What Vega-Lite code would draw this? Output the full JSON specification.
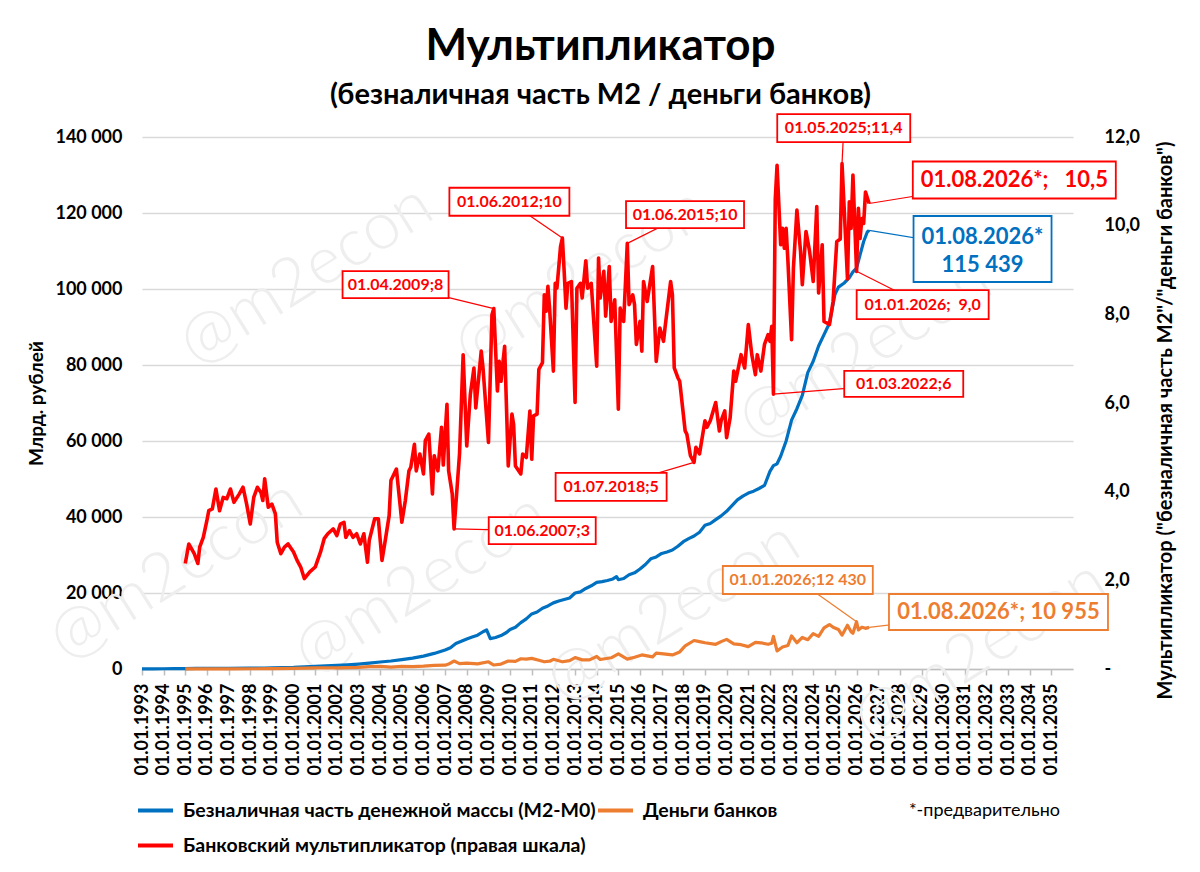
{
  "$schema": "https://vega.github.io/schema/vega-lite/v6.json",
  "width": 931,
  "height": 532,
  "autosize": {"type": "none"},
  "padding": {"left": 142, "top": 137, "right": 127, "bottom": 203},
  "background": "white",
  "title": {
    "text": "Мультипликатор",
    "subtitle": "(безналичная часть М2 / деньги банков)",
    "anchor": "middle",
    "frame": "group",
    "dx": -7,
    "offset": 1,
    "font": "Lato",
    "fontSize": 44,
    "fontWeight": "bold",
    "color": "black",
    "subtitleFont": "Lato",
    "subtitleFontSize": 29,
    "subtitleFontWeight": "bold",
    "subtitleColor": "black",
    "subtitlePadding": 12
  },
  "datasets": {
    "wm": [
      {"d": "2000-07-30", "v": 103684, "t": "@m2econ"},
      {"d": "2013-04-10", "v": 102895, "t": "@m2econ"},
      {"d": "2026-05-22", "v": 83948, "t": "@m2econ"},
      {"d": "1994-07-27", "v": 26053, "t": "@m2econ"},
      {"d": "2005-11-20", "v": 22369, "t": "@m2econ"},
      {"d": "2017-07-12", "v": 15000, "t": "@m2econ"},
      {"d": "2031-09-15", "v": 4737, "t": "@m2econ"}
    ],
    "ann": [
      {"id": "r1", "s": "R", "d": "2009-04-01", "v": 8.13, "ld": "2004-09-17", "lv": 8.67, "t": "01.04.2009;8"},
      {"id": "r2", "s": "R", "d": "2012-06-01", "v": 9.72, "ld": "2009-12-20", "lv": 10.54, "t": "01.06.2012;10"},
      {"id": "r3", "s": "R", "d": "2015-06-01", "v": 9.60, "ld": "2018-01-30", "lv": 10.25, "t": "01.06.2015;10"},
      {"id": "r4", "s": "R", "d": "2025-05-01", "v": 11.40, "ld": "2025-05-30", "lv": 12.20, "t": "01.05.2025;11,4"},
      {"id": "r5", "s": "R", "d": "2026-08-01", "v": 10.50, "ld": "2033-04-15", "lv": 11.03, "t": "01.08.2026*;\u00a0\u00a0 10,5"},
      {"id": "r7", "s": "R", "d": "2026-01-01", "v": 8.97, "ld": "2029-01-20", "lv": 8.22, "t": "01.01.2026;\u00a0 9,0"},
      {"id": "r8", "s": "R", "d": "2022-03-01", "v": 6.20, "ld": "2028-03-07", "lv": 6.43, "t": "01.03.2022;6"},
      {"id": "r9", "s": "R", "d": "2018-07-01", "v": 4.66, "ld": "2014-09-01", "lv": 4.11, "t": "01.07.2018;5"},
      {"id": "r10", "s": "R", "d": "2007-06-01", "v": 3.16, "ld": "2011-06-27", "lv": 3.12, "t": "01.06.2007;3"},
      {"id": "b6", "s": "B", "d": "2026-08-01", "v": 115439, "ld": "2031-10-27", "lv": 110527, "t": "01.08.2026*\n115 439"},
      {"id": "o11", "s": "O", "d": "2026-01-01", "v": 12430, "ld": "2023-04-16", "lv": 23421, "t": "01.01.2026;12 430"},
      {"id": "o12", "s": "O", "d": "2026-08-01", "v": 10955, "ld": "2032-07-22", "lv": 15000, "t": "01.08.2026*; 10 955"}
    ],
    "series": [
      {"d": "1993-01-01", "v": 10, "s": "B"},
      {"d": "1993-07-01", "v": 30, "s": "B"},
      {"d": "1994-01-01", "v": 60, "s": "B"},
      {"d": "1994-07-01", "v": 90, "s": "B"},
      {"d": "1995-01-01", "v": 110, "s": "B"},
      {"d": "1995-07-01", "v": 140, "s": "B"},
      {"d": "1996-01-01", "v": 160, "s": "B"},
      {"d": "1997-01-01", "v": 200, "s": "B"},
      {"d": "1998-01-01", "v": 240, "s": "B"},
      {"d": "1998-09-01", "v": 260, "s": "B"},
      {"d": "1999-01-01", "v": 300, "s": "B"},
      {"d": "2000-01-01", "v": 420, "s": "B"},
      {"d": "2000-07-01", "v": 550, "s": "B"},
      {"d": "2001-01-01", "v": 680, "s": "B"},
      {"d": "2001-07-01", "v": 820, "s": "B"},
      {"d": "2002-01-01", "v": 950, "s": "B"},
      {"d": "2002-07-01", "v": 1100, "s": "B"},
      {"d": "2003-01-01", "v": 1300, "s": "B"},
      {"d": "2003-07-01", "v": 1550, "s": "B"},
      {"d": "2004-01-01", "v": 1850, "s": "B"},
      {"d": "2004-07-01", "v": 2100, "s": "B"},
      {"d": "2005-01-01", "v": 2450, "s": "B"},
      {"d": "2005-07-01", "v": 2850, "s": "B"},
      {"d": "2006-01-01", "v": 3400, "s": "B"},
      {"d": "2006-07-01", "v": 4100, "s": "B"},
      {"d": "2007-01-01", "v": 5000, "s": "B"},
      {"d": "2007-04-01", "v": 5600, "s": "B"},
      {"d": "2007-07-01", "v": 6700, "s": "B"},
      {"d": "2007-10-01", "v": 7300, "s": "B"},
      {"d": "2008-01-01", "v": 7900, "s": "B"},
      {"d": "2008-04-01", "v": 8400, "s": "B"},
      {"d": "2008-07-01", "v": 8900, "s": "B"},
      {"d": "2008-10-01", "v": 9800, "s": "B"},
      {"d": "2008-12-01", "v": 10300, "s": "B"},
      {"d": "2009-02-01", "v": 8000, "s": "B"},
      {"d": "2009-05-01", "v": 8300, "s": "B"},
      {"d": "2009-08-01", "v": 8800, "s": "B"},
      {"d": "2009-11-01", "v": 9600, "s": "B"},
      {"d": "2010-01-01", "v": 10400, "s": "B"},
      {"d": "2010-04-01", "v": 11000, "s": "B"},
      {"d": "2010-07-01", "v": 12200, "s": "B"},
      {"d": "2010-10-01", "v": 13200, "s": "B"},
      {"d": "2011-01-01", "v": 14500, "s": "B"},
      {"d": "2011-04-01", "v": 15000, "s": "B"},
      {"d": "2011-07-01", "v": 16000, "s": "B"},
      {"d": "2011-10-01", "v": 16600, "s": "B"},
      {"d": "2012-01-01", "v": 17400, "s": "B"},
      {"d": "2012-04-01", "v": 17900, "s": "B"},
      {"d": "2012-07-01", "v": 18300, "s": "B"},
      {"d": "2012-10-01", "v": 18700, "s": "B"},
      {"d": "2013-01-01", "v": 20000, "s": "B"},
      {"d": "2013-04-01", "v": 20300, "s": "B"},
      {"d": "2013-07-01", "v": 21200, "s": "B"},
      {"d": "2013-10-01", "v": 21900, "s": "B"},
      {"d": "2014-01-01", "v": 22800, "s": "B"},
      {"d": "2014-04-01", "v": 23000, "s": "B"},
      {"d": "2014-07-01", "v": 23300, "s": "B"},
      {"d": "2014-10-01", "v": 23700, "s": "B"},
      {"d": "2014-12-01", "v": 24300, "s": "B"},
      {"d": "2015-01-01", "v": 23500, "s": "B"},
      {"d": "2015-04-01", "v": 23800, "s": "B"},
      {"d": "2015-07-01", "v": 24800, "s": "B"},
      {"d": "2015-10-01", "v": 25300, "s": "B"},
      {"d": "2016-01-01", "v": 26300, "s": "B"},
      {"d": "2016-04-01", "v": 27500, "s": "B"},
      {"d": "2016-07-01", "v": 29000, "s": "B"},
      {"d": "2016-10-01", "v": 29500, "s": "B"},
      {"d": "2017-01-01", "v": 30400, "s": "B"},
      {"d": "2017-04-01", "v": 30800, "s": "B"},
      {"d": "2017-07-01", "v": 31300, "s": "B"},
      {"d": "2017-10-01", "v": 32300, "s": "B"},
      {"d": "2018-01-01", "v": 33500, "s": "B"},
      {"d": "2018-04-01", "v": 34300, "s": "B"},
      {"d": "2018-07-01", "v": 35000, "s": "B"},
      {"d": "2018-10-01", "v": 36000, "s": "B"},
      {"d": "2019-01-01", "v": 37800, "s": "B"},
      {"d": "2019-04-01", "v": 38300, "s": "B"},
      {"d": "2019-07-01", "v": 39300, "s": "B"},
      {"d": "2019-10-01", "v": 40300, "s": "B"},
      {"d": "2020-01-01", "v": 41500, "s": "B"},
      {"d": "2020-04-01", "v": 43000, "s": "B"},
      {"d": "2020-07-01", "v": 44500, "s": "B"},
      {"d": "2020-10-01", "v": 45500, "s": "B"},
      {"d": "2021-01-01", "v": 46300, "s": "B"},
      {"d": "2021-04-01", "v": 46800, "s": "B"},
      {"d": "2021-07-01", "v": 47500, "s": "B"},
      {"d": "2021-10-01", "v": 48300, "s": "B"},
      {"d": "2022-01-01", "v": 52000, "s": "B"},
      {"d": "2022-03-01", "v": 53500, "s": "B"},
      {"d": "2022-05-01", "v": 54000, "s": "B"},
      {"d": "2022-07-01", "v": 56000, "s": "B"},
      {"d": "2022-10-01", "v": 60000, "s": "B"},
      {"d": "2023-01-01", "v": 65500, "s": "B"},
      {"d": "2023-04-01", "v": 68500, "s": "B"},
      {"d": "2023-07-01", "v": 72000, "s": "B"},
      {"d": "2023-10-01", "v": 78000, "s": "B"},
      {"d": "2024-01-01", "v": 81000, "s": "B"},
      {"d": "2024-04-01", "v": 85000, "s": "B"},
      {"d": "2024-07-01", "v": 88000, "s": "B"},
      {"d": "2024-10-01", "v": 91000, "s": "B"},
      {"d": "2025-01-01", "v": 98500, "s": "B"},
      {"d": "2025-03-01", "v": 100500, "s": "B"},
      {"d": "2025-06-01", "v": 101500, "s": "B"},
      {"d": "2025-09-01", "v": 103000, "s": "B"},
      {"d": "2025-11-01", "v": 104500, "s": "B"},
      {"d": "2026-01-01", "v": 105500, "s": "B"},
      {"d": "2026-03-01", "v": 109000, "s": "B"},
      {"d": "2026-05-01", "v": 112500, "s": "B"},
      {"d": "2026-07-01", "v": 115000, "s": "B"},
      {"d": "2026-08-01", "v": 115439, "s": "B"},
      {"d": "1995-01-01", "v": 40, "s": "O"},
      {"d": "1996-01-01", "v": 50, "s": "O"},
      {"d": "1997-01-01", "v": 55, "s": "O"},
      {"d": "1998-01-01", "v": 60, "s": "O"},
      {"d": "1999-01-01", "v": 90, "s": "O"},
      {"d": "2000-01-01", "v": 160, "s": "O"},
      {"d": "2001-01-01", "v": 280, "s": "O"},
      {"d": "2002-01-01", "v": 320, "s": "O"},
      {"d": "2003-01-01", "v": 450, "s": "O"},
      {"d": "2003-07-01", "v": 600, "s": "O"},
      {"d": "2004-01-01", "v": 700, "s": "O"},
      {"d": "2004-07-01", "v": 500, "s": "O"},
      {"d": "2005-01-01", "v": 700, "s": "O"},
      {"d": "2005-07-01", "v": 650, "s": "O"},
      {"d": "2006-01-01", "v": 750, "s": "O"},
      {"d": "2006-07-01", "v": 950, "s": "O"},
      {"d": "2007-01-01", "v": 1000, "s": "O"},
      {"d": "2007-03-01", "v": 1300, "s": "O"},
      {"d": "2007-06-01", "v": 2100, "s": "O"},
      {"d": "2007-09-01", "v": 1400, "s": "O"},
      {"d": "2008-01-01", "v": 1550, "s": "O"},
      {"d": "2008-07-01", "v": 1350, "s": "O"},
      {"d": "2009-01-01", "v": 1900, "s": "O"},
      {"d": "2009-04-01", "v": 1050, "s": "O"},
      {"d": "2009-08-01", "v": 1300, "s": "O"},
      {"d": "2009-12-01", "v": 2100, "s": "O"},
      {"d": "2010-04-01", "v": 2000, "s": "O"},
      {"d": "2010-07-01", "v": 2700, "s": "O"},
      {"d": "2010-10-01", "v": 2600, "s": "O"},
      {"d": "2011-01-01", "v": 2800, "s": "O"},
      {"d": "2011-05-01", "v": 2300, "s": "O"},
      {"d": "2011-08-01", "v": 1900, "s": "O"},
      {"d": "2011-11-01", "v": 2050, "s": "O"},
      {"d": "2012-01-01", "v": 2550, "s": "O"},
      {"d": "2012-06-01", "v": 1900, "s": "O"},
      {"d": "2012-10-01", "v": 2200, "s": "O"},
      {"d": "2013-01-01", "v": 3000, "s": "O"},
      {"d": "2013-05-01", "v": 2400, "s": "O"},
      {"d": "2013-09-01", "v": 2400, "s": "O"},
      {"d": "2014-01-01", "v": 3300, "s": "O"},
      {"d": "2014-03-01", "v": 2500, "s": "O"},
      {"d": "2014-09-01", "v": 2950, "s": "O"},
      {"d": "2015-01-01", "v": 4000, "s": "O"},
      {"d": "2015-06-01", "v": 2600, "s": "O"},
      {"d": "2015-10-01", "v": 3100, "s": "O"},
      {"d": "2016-02-01", "v": 3700, "s": "O"},
      {"d": "2016-08-01", "v": 3200, "s": "O"},
      {"d": "2016-10-01", "v": 4200, "s": "O"},
      {"d": "2017-02-01", "v": 4000, "s": "O"},
      {"d": "2017-07-01", "v": 3700, "s": "O"},
      {"d": "2017-11-01", "v": 4500, "s": "O"},
      {"d": "2018-02-01", "v": 6100, "s": "O"},
      {"d": "2018-07-01", "v": 7500, "s": "O"},
      {"d": "2018-10-01", "v": 7200, "s": "O"},
      {"d": "2019-01-01", "v": 6900, "s": "O"},
      {"d": "2019-07-01", "v": 6500, "s": "O"},
      {"d": "2019-10-01", "v": 7200, "s": "O"},
      {"d": "2020-01-01", "v": 7800, "s": "O"},
      {"d": "2020-05-01", "v": 6600, "s": "O"},
      {"d": "2020-09-01", "v": 6400, "s": "O"},
      {"d": "2021-01-01", "v": 5900, "s": "O"},
      {"d": "2021-05-01", "v": 7000, "s": "O"},
      {"d": "2021-08-01", "v": 6900, "s": "O"},
      {"d": "2021-12-01", "v": 6500, "s": "O"},
      {"d": "2022-02-01", "v": 6800, "s": "O"},
      {"d": "2022-03-01", "v": 8600, "s": "O"},
      {"d": "2022-05-01", "v": 4750, "s": "O"},
      {"d": "2022-08-01", "v": 5800, "s": "O"},
      {"d": "2022-11-01", "v": 6200, "s": "O"},
      {"d": "2023-01-01", "v": 8700, "s": "O"},
      {"d": "2023-04-01", "v": 6900, "s": "O"},
      {"d": "2023-07-01", "v": 8300, "s": "O"},
      {"d": "2023-10-01", "v": 7700, "s": "O"},
      {"d": "2024-01-01", "v": 9300, "s": "O"},
      {"d": "2024-04-01", "v": 8600, "s": "O"},
      {"d": "2024-07-01", "v": 10800, "s": "O"},
      {"d": "2024-10-01", "v": 11700, "s": "O"},
      {"d": "2024-12-01", "v": 11000, "s": "O"},
      {"d": "2025-03-01", "v": 10400, "s": "O"},
      {"d": "2025-05-01", "v": 8900, "s": "O"},
      {"d": "2025-08-01", "v": 11500, "s": "O"},
      {"d": "2025-10-01", "v": 9800, "s": "O"},
      {"d": "2025-11-01", "v": 9400, "s": "O"},
      {"d": "2026-01-01", "v": 12430, "s": "O"},
      {"d": "2026-02-01", "v": 10300, "s": "O"},
      {"d": "2026-04-01", "v": 11000, "s": "O"},
      {"d": "2026-06-01", "v": 10700, "s": "O"},
      {"d": "2026-08-01", "v": 10955, "s": "O"},
      {"d": "1995-01-01", "v": 2.38, "s": "R"},
      {"d": "1995-03-01", "v": 2.82, "s": "R"},
      {"d": "1995-04-01", "v": 2.75, "s": "R"},
      {"d": "1995-06-01", "v": 2.60, "s": "R"},
      {"d": "1995-08-01", "v": 2.38, "s": "R"},
      {"d": "1995-09-01", "v": 2.75, "s": "R"},
      {"d": "1995-11-01", "v": 2.97, "s": "R"},
      {"d": "1996-01-01", "v": 3.35, "s": "R"},
      {"d": "1996-02-01", "v": 3.57, "s": "R"},
      {"d": "1996-04-01", "v": 3.61, "s": "R"},
      {"d": "1996-06-01", "v": 4.06, "s": "R"},
      {"d": "1996-08-01", "v": 3.57, "s": "R"},
      {"d": "1996-10-01", "v": 3.87, "s": "R"},
      {"d": "1996-12-01", "v": 3.84, "s": "R"},
      {"d": "1997-02-01", "v": 4.06, "s": "R"},
      {"d": "1997-04-01", "v": 3.76, "s": "R"},
      {"d": "1997-07-01", "v": 3.95, "s": "R"},
      {"d": "1997-09-01", "v": 4.10, "s": "R"},
      {"d": "1997-11-01", "v": 3.72, "s": "R"},
      {"d": "1998-01-01", "v": 3.27, "s": "R"},
      {"d": "1998-03-01", "v": 3.87, "s": "R"},
      {"d": "1998-05-01", "v": 4.10, "s": "R"},
      {"d": "1998-07-01", "v": 3.98, "s": "R"},
      {"d": "1998-08-01", "v": 3.80, "s": "R"},
      {"d": "1998-09-01", "v": 4.29, "s": "R"},
      {"d": "1998-11-01", "v": 3.65, "s": "R"},
      {"d": "1999-01-01", "v": 3.72, "s": "R"},
      {"d": "1999-03-01", "v": 3.50, "s": "R"},
      {"d": "1999-04-01", "v": 2.86, "s": "R"},
      {"d": "1999-06-01", "v": 2.60, "s": "R"},
      {"d": "1999-08-01", "v": 2.75, "s": "R"},
      {"d": "1999-10-01", "v": 2.82, "s": "R"},
      {"d": "2000-01-01", "v": 2.64, "s": "R"},
      {"d": "2000-03-01", "v": 2.45, "s": "R"},
      {"d": "2000-05-01", "v": 2.30, "s": "R"},
      {"d": "2000-07-01", "v": 2.04, "s": "R"},
      {"d": "2000-10-01", "v": 2.19, "s": "R"},
      {"d": "2001-01-01", "v": 2.30, "s": "R"},
      {"d": "2001-04-01", "v": 2.64, "s": "R"},
      {"d": "2001-06-01", "v": 2.94, "s": "R"},
      {"d": "2001-08-01", "v": 3.05, "s": "R"},
      {"d": "2001-11-01", "v": 3.16, "s": "R"},
      {"d": "2002-01-01", "v": 3.01, "s": "R"},
      {"d": "2002-03-01", "v": 3.27, "s": "R"},
      {"d": "2002-05-01", "v": 3.31, "s": "R"},
      {"d": "2002-06-01", "v": 2.97, "s": "R"},
      {"d": "2002-08-01", "v": 3.12, "s": "R"},
      {"d": "2002-10-01", "v": 2.97, "s": "R"},
      {"d": "2002-12-01", "v": 3.05, "s": "R"},
      {"d": "2003-02-01", "v": 2.82, "s": "R"},
      {"d": "2003-04-01", "v": 3.05, "s": "R"},
      {"d": "2003-06-01", "v": 2.41, "s": "R"},
      {"d": "2003-07-01", "v": 2.90, "s": "R"},
      {"d": "2003-10-01", "v": 3.39, "s": "R"},
      {"d": "2003-12-01", "v": 3.39, "s": "R"},
      {"d": "2004-02-01", "v": 2.45, "s": "R"},
      {"d": "2004-04-01", "v": 2.94, "s": "R"},
      {"d": "2004-06-01", "v": 3.46, "s": "R"},
      {"d": "2004-07-01", "v": 4.25, "s": "R"},
      {"d": "2004-10-01", "v": 4.51, "s": "R"},
      {"d": "2004-12-01", "v": 3.72, "s": "R"},
      {"d": "2005-01-01", "v": 3.31, "s": "R"},
      {"d": "2005-03-01", "v": 3.80, "s": "R"},
      {"d": "2005-05-01", "v": 4.47, "s": "R"},
      {"d": "2005-06-01", "v": 4.55, "s": "R"},
      {"d": "2005-08-01", "v": 5.07, "s": "R"},
      {"d": "2005-09-01", "v": 4.47, "s": "R"},
      {"d": "2005-11-01", "v": 4.85, "s": "R"},
      {"d": "2006-01-01", "v": 4.40, "s": "R"},
      {"d": "2006-02-01", "v": 5.15, "s": "R"},
      {"d": "2006-04-01", "v": 5.30, "s": "R"},
      {"d": "2006-06-01", "v": 3.95, "s": "R"},
      {"d": "2006-07-01", "v": 4.81, "s": "R"},
      {"d": "2006-09-01", "v": 4.47, "s": "R"},
      {"d": "2006-11-01", "v": 5.45, "s": "R"},
      {"d": "2006-12-01", "v": 4.60, "s": "R"},
      {"d": "2007-02-01", "v": 5.97, "s": "R"},
      {"d": "2007-03-01", "v": 4.47, "s": "R"},
      {"d": "2007-05-01", "v": 3.95, "s": "R"},
      {"d": "2007-06-01", "v": 3.16, "s": "R"},
      {"d": "2007-09-01", "v": 4.85, "s": "R"},
      {"d": "2007-11-01", "v": 7.09, "s": "R"},
      {"d": "2008-01-01", "v": 5.03, "s": "R"},
      {"d": "2008-03-01", "v": 6.19, "s": "R"},
      {"d": "2008-05-01", "v": 6.79, "s": "R"},
      {"d": "2008-06-01", "v": 5.89, "s": "R"},
      {"d": "2008-09-01", "v": 7.17, "s": "R"},
      {"d": "2008-10-01", "v": 6.79, "s": "R"},
      {"d": "2009-01-01", "v": 5.11, "s": "R"},
      {"d": "2009-03-01", "v": 7.99, "s": "R"},
      {"d": "2009-04-01", "v": 8.13, "s": "R"},
      {"d": "2009-06-01", "v": 6.27, "s": "R"},
      {"d": "2009-07-01", "v": 6.94, "s": "R"},
      {"d": "2009-08-01", "v": 6.49, "s": "R"},
      {"d": "2009-10-01", "v": 7.28, "s": "R"},
      {"d": "2009-12-01", "v": 4.58, "s": "R"},
      {"d": "2010-02-01", "v": 5.75, "s": "R"},
      {"d": "2010-03-01", "v": 5.52, "s": "R"},
      {"d": "2010-04-01", "v": 4.58, "s": "R"},
      {"d": "2010-07-01", "v": 4.40, "s": "R"},
      {"d": "2010-08-01", "v": 4.85, "s": "R"},
      {"d": "2010-10-01", "v": 4.77, "s": "R"},
      {"d": "2010-12-01", "v": 5.82, "s": "R"},
      {"d": "2011-01-01", "v": 4.73, "s": "R"},
      {"d": "2011-02-01", "v": 5.71, "s": "R"},
      {"d": "2011-04-01", "v": 5.75, "s": "R"},
      {"d": "2011-05-01", "v": 6.76, "s": "R"},
      {"d": "2011-07-01", "v": 6.91, "s": "R"},
      {"d": "2011-08-01", "v": 8.44, "s": "R"},
      {"d": "2011-09-01", "v": 8.07, "s": "R"},
      {"d": "2011-10-01", "v": 8.63, "s": "R"},
      {"d": "2011-11-01", "v": 8.07, "s": "R"},
      {"d": "2012-01-01", "v": 6.72, "s": "R"},
      {"d": "2012-02-01", "v": 8.70, "s": "R"},
      {"d": "2012-03-01", "v": 8.59, "s": "R"},
      {"d": "2012-05-01", "v": 9.53, "s": "R"},
      {"d": "2012-06-01", "v": 9.72, "s": "R"},
      {"d": "2012-07-01", "v": 8.97, "s": "R"},
      {"d": "2012-08-01", "v": 8.14, "s": "R"},
      {"d": "2012-09-01", "v": 8.70, "s": "R"},
      {"d": "2012-11-01", "v": 8.74, "s": "R"},
      {"d": "2013-01-01", "v": 6.01, "s": "R"},
      {"d": "2013-02-01", "v": 8.59, "s": "R"},
      {"d": "2013-04-01", "v": 8.70, "s": "R"},
      {"d": "2013-05-01", "v": 8.37, "s": "R"},
      {"d": "2013-07-01", "v": 9.21, "s": "R"},
      {"d": "2013-08-01", "v": 8.59, "s": "R"},
      {"d": "2013-10-01", "v": 8.70, "s": "R"},
      {"d": "2014-01-01", "v": 6.83, "s": "R"},
      {"d": "2014-02-01", "v": 9.27, "s": "R"},
      {"d": "2014-03-01", "v": 8.37, "s": "R"},
      {"d": "2014-05-01", "v": 8.97, "s": "R"},
      {"d": "2014-06-01", "v": 7.96, "s": "R"},
      {"d": "2014-08-01", "v": 9.08, "s": "R"},
      {"d": "2014-09-01", "v": 7.84, "s": "R"},
      {"d": "2014-11-01", "v": 8.33, "s": "R"},
      {"d": "2015-01-01", "v": 5.86, "s": "R"},
      {"d": "2015-02-01", "v": 8.14, "s": "R"},
      {"d": "2015-04-01", "v": 7.84, "s": "R"},
      {"d": "2015-06-01", "v": 9.60, "s": "R"},
      {"d": "2015-07-01", "v": 8.22, "s": "R"},
      {"d": "2015-09-01", "v": 8.44, "s": "R"},
      {"d": "2015-10-01", "v": 8.22, "s": "R"},
      {"d": "2015-11-01", "v": 7.32, "s": "R"},
      {"d": "2016-01-01", "v": 7.84, "s": "R"},
      {"d": "2016-02-01", "v": 7.17, "s": "R"},
      {"d": "2016-03-01", "v": 8.74, "s": "R"},
      {"d": "2016-05-01", "v": 8.29, "s": "R"},
      {"d": "2016-08-01", "v": 9.08, "s": "R"},
      {"d": "2016-10-01", "v": 6.94, "s": "R"},
      {"d": "2016-12-01", "v": 7.69, "s": "R"},
      {"d": "2017-02-01", "v": 7.39, "s": "R"},
      {"d": "2017-03-01", "v": 7.73, "s": "R"},
      {"d": "2017-06-01", "v": 8.74, "s": "R"},
      {"d": "2017-07-01", "v": 8.44, "s": "R"},
      {"d": "2017-08-01", "v": 6.79, "s": "R"},
      {"d": "2017-10-01", "v": 6.57, "s": "R"},
      {"d": "2017-11-01", "v": 6.49, "s": "R"},
      {"d": "2018-02-01", "v": 5.37, "s": "R"},
      {"d": "2018-03-01", "v": 5.30, "s": "R"},
      {"d": "2018-05-01", "v": 4.81, "s": "R"},
      {"d": "2018-07-01", "v": 4.66, "s": "R"},
      {"d": "2018-08-01", "v": 5.00, "s": "R"},
      {"d": "2018-10-01", "v": 4.85, "s": "R"},
      {"d": "2019-01-01", "v": 5.60, "s": "R"},
      {"d": "2019-02-01", "v": 5.45, "s": "R"},
      {"d": "2019-04-01", "v": 5.60, "s": "R"},
      {"d": "2019-07-01", "v": 6.01, "s": "R"},
      {"d": "2019-09-01", "v": 5.37, "s": "R"},
      {"d": "2019-10-01", "v": 5.60, "s": "R"},
      {"d": "2019-12-01", "v": 5.82, "s": "R"},
      {"d": "2020-01-01", "v": 5.22, "s": "R"},
      {"d": "2020-03-01", "v": 5.67, "s": "R"},
      {"d": "2020-05-01", "v": 6.72, "s": "R"},
      {"d": "2020-06-01", "v": 6.49, "s": "R"},
      {"d": "2020-09-01", "v": 7.09, "s": "R"},
      {"d": "2020-11-01", "v": 6.79, "s": "R"},
      {"d": "2021-01-01", "v": 7.77, "s": "R"},
      {"d": "2021-03-01", "v": 7.09, "s": "R"},
      {"d": "2021-05-01", "v": 6.64, "s": "R"},
      {"d": "2021-06-01", "v": 7.09, "s": "R"},
      {"d": "2021-08-01", "v": 6.72, "s": "R"},
      {"d": "2021-10-01", "v": 7.32, "s": "R"},
      {"d": "2021-12-01", "v": 7.54, "s": "R"},
      {"d": "2022-01-01", "v": 7.39, "s": "R"},
      {"d": "2022-02-01", "v": 7.73, "s": "R"},
      {"d": "2022-03-01", "v": 6.20, "s": "R"},
      {"d": "2022-04-01", "v": 10.60, "s": "R"},
      {"d": "2022-05-01", "v": 11.36, "s": "R"},
      {"d": "2022-07-01", "v": 9.57, "s": "R"},
      {"d": "2022-08-01", "v": 9.94, "s": "R"},
      {"d": "2022-09-01", "v": 9.49, "s": "R"},
      {"d": "2022-10-01", "v": 9.94, "s": "R"},
      {"d": "2022-11-01", "v": 9.19, "s": "R"},
      {"d": "2023-01-01", "v": 7.43, "s": "R"},
      {"d": "2023-02-01", "v": 9.04, "s": "R"},
      {"d": "2023-04-01", "v": 10.35, "s": "R"},
      {"d": "2023-06-01", "v": 9.42, "s": "R"},
      {"d": "2023-07-01", "v": 8.67, "s": "R"},
      {"d": "2023-09-01", "v": 9.87, "s": "R"},
      {"d": "2023-11-01", "v": 9.42, "s": "R"},
      {"d": "2024-01-01", "v": 8.74, "s": "R"},
      {"d": "2024-03-01", "v": 10.43, "s": "R"},
      {"d": "2024-04-01", "v": 8.48, "s": "R"},
      {"d": "2024-06-01", "v": 9.57, "s": "R"},
      {"d": "2024-07-01", "v": 7.84, "s": "R"},
      {"d": "2024-10-01", "v": 7.77, "s": "R"},
      {"d": "2024-12-01", "v": 8.29, "s": "R"},
      {"d": "2025-02-01", "v": 9.64, "s": "R"},
      {"d": "2025-04-01", "v": 9.70, "s": "R"},
      {"d": "2025-05-01", "v": 11.40, "s": "R"},
      {"d": "2025-06-01", "v": 10.54, "s": "R"},
      {"d": "2025-08-01", "v": 8.80, "s": "R"},
      {"d": "2025-09-01", "v": 10.54, "s": "R"},
      {"d": "2025-10-01", "v": 9.94, "s": "R"},
      {"d": "2025-11-01", "v": 11.14, "s": "R"},
      {"d": "2026-01-01", "v": 8.97, "s": "R"},
      {"d": "2026-02-01", "v": 10.39, "s": "R"},
      {"d": "2026-03-01", "v": 9.71, "s": "R"},
      {"d": "2026-04-01", "v": 10.16, "s": "R"},
      {"d": "2026-05-01", "v": 10.05, "s": "R"},
      {"d": "2026-06-01", "v": 10.76, "s": "R"},
      {"d": "2026-08-01", "v": 10.50, "s": "R"}
    ]
  },
  "layer": [
    {
      "layer": [
        {
          "data": {"name": "wm"},
          "mark": {"type": "text", "angle": -32, "fontSize": 66, "font": "Lato", "fontWeight": 300, "color": "#eeeeee", "align": "center", "baseline": "middle"},
          "encoding": {
            "x": {"field": "d", "type": "temporal", "scale": {"type": "utc", "domain": [{"year": 1993, "month": 1, "date": 1, "utc": true}, {"year": 2035, "month": 12, "date": 31, "utc": true}]}},
            "y": {"field": "v", "type": "quantitative", "scale": {"domain": [0, 140000], "nice": false}},
            "text": {"field": "t"}
          }
        },
        {
          "data": {"name": "series"},
          "transform": [{"filter": "datum.s != 'R'"}],
          "mark": {"type": "line", "strokeWidth": 3.2, "strokeJoin": "round"},
          "encoding": {
            "x": {
              "field": "d", "type": "temporal",
              "scale": {"type": "utc", "domain": [{"year": 1993, "month": 1, "date": 1, "utc": true}, {"year": 2035, "month": 12, "date": 31, "utc": true}]},
              "axis": {
                "format": "%d.%m.%Y",
                "tickCount": {"interval": "year", "step": 1},
                "labelAngle": 270,
                "labelOverlap": false,
                "labelFontSize": 18,
                "labelFontWeight": "bold",
                "labelPadding": 8,
                "tickSize": 6,
                "tickColor": "#bfbfbf",
                "tickWidth": 1.5,
                "domainColor": "#bfbfbf",
                "domainWidth": 1.5,
                "grid": false,
                "title": "*-предварительно",
                "titleX": 842,
                "titleY": 141,
                "titleAlign": "center",
                "titleBaseline": "middle",
                "titleFontSize": 18,
                "titleFontWeight": "normal"
              }
            },
            "y": {
              "field": "v", "type": "quantitative",
              "scale": {"domain": [0, 140000], "nice": false},
              "axis": {
                "values": [0, 20000, 40000, 60000, 80000, 100000, 120000, 140000],
                "labelExpr": "replace(format(datum.value, ','), ',', ' ')",
                "title": "Млрд. рублей",
                "titleFontSize": 19,
                "titleFontWeight": "bold",
                "titlePadding": 8,
                "labelFontSize": 18,
                "labelFontWeight": "bold",
                "labelPadding": 20,
                "domain": false,
                "ticks": false,
                "grid": true,
                "gridColor": "#d9d9d9",
                "gridWidth": 1.5
              }
            },
            "color": {
              "field": "s", "type": "nominal",
              "scale": {"domain": ["B", "O", "R"], "range": ["#0070C0", "#ED7D31", "#FF0000"]},
              "legend": {
                "orient": "none",
                "legendX": -6,
                "legendY": 654,
                "columns": 2,
                "direction": "horizontal",
                "title": null,
                "symbolType": "stroke",
                "symbolStrokeWidth": 4,
                "symbolSize": 1225,
                "labelFont": "Lato",
                "labelFontSize": 19.5,
                "labelFontWeight": "bold",
                "labelColor": "black",
                "labelLimit": 700,
                "labelOffset": 8,
                "columnPadding": -8,
                "rowPadding": 6,
                "labelExpr": "datum.label == 'B' ? 'Безналичная часть денежной массы (М2-М0)' : datum.label == 'O' ? 'Деньги банков' : 'Банковский мультипликатор (правая шкала)'"
              }
            }
          }
        },
        {
          "data": {"name": "ann"},
          "transform": [{"filter": "datum.s != 'R'"}],
          "mark": {"type": "rule", "strokeWidth": 1.2},
          "encoding": {
            "x": {"field": "d", "type": "temporal"},
            "y": {"field": "v", "type": "quantitative"},
            "x2": {"field": "ld"},
            "y2": {"field": "lv"},
            "color": {"field": "s", "type": "nominal", "legend": null}
          }
        },
        {
          "data": {"name": "ann"},
          "transform": [{"filter": "datum.s != 'R'"}],
          "mark": {"type": "point", "filled": false, "fill": "white", "fillOpacity": 1, "opacity": 1, "size": 4, "strokeWidth": 1.8},
          "encoding": {
            "x": {"field": "ld", "type": "temporal"},
            "y": {"field": "lv", "type": "quantitative"},
            "color": {"field": "s", "type": "nominal", "legend": null},
            "shape": {
              "field": "id", "type": "nominal", "legend": null,
              "scale": {
                "domain": ["r1", "r2", "r3", "r4", "r5", "r7", "r8", "r9", "r10", "b6", "o11", "o12"],
                "range": ["M-53,-13.5H53V13.5H-53Z", "M-60,-14H60V14H-60Z", "M-59,-13.5H59V13.5H-59Z", "M-66.5,-14H66.5V14H-66.5Z", "M-101.5,-18.5H101.5V18.5H-101.5Z", "M-66,-14.5H66V14.5H-66Z", "M-59.5,-13H59.5V13H-59.5Z", "M-55.5,-14H55.5V14H-55.5Z", "M-53.5,-13.5H53.5V13.5H-53.5Z", "M-69,-33H69V33H-69Z", "M-75,-14H75V14H-75Z", "M-109.5,-18H109.5V18H-109.5Z"]
              }
            }
          }
        },
        {
          "data": {"name": "ann"},
          "transform": [{"filter": "datum.s == 'O'"}],
          "mark": {"type": "text", "font": "Lato", "fontWeight": "bold", "align": "center", "baseline": "middle"},
          "encoding": {
            "x": {"field": "ld", "type": "temporal"},
            "y": {"field": "lv", "type": "quantitative"},
            "text": {"field": "t"},
            "color": {"field": "s", "type": "nominal", "legend": null},
            "size": {"condition": {"test": "datum.id == 'o12'", "value": 22}, "value": 16}
          }
        },
        {
          "data": {"name": "ann"},
          "transform": [{"filter": "datum.s == 'B'"}],
          "mark": {"type": "text", "font": "Lato", "fontWeight": "bold", "align": "center", "baseline": "middle", "lineBreak": "\n", "lineHeight": 28, "dy": -12, "fontSize": 22},
          "encoding": {
            "x": {"field": "ld", "type": "temporal"},
            "y": {"field": "lv", "type": "quantitative"},
            "text": {"field": "t"},
            "color": {"field": "s", "type": "nominal", "legend": null}
          }
        }
      ]
    },
    {
      "layer": [
        {
          "data": {"name": "series"},
          "transform": [{"filter": "datum.s == 'R'"}],
          "mark": {"type": "line", "strokeWidth": 3.6, "strokeJoin": "round"},
          "encoding": {
            "x": {"field": "d", "type": "temporal"},
            "y": {
              "field": "v", "type": "quantitative",
              "scale": {"domain": [0, 12], "nice": false},
              "axis": {
                "orient": "right",
                "values": [0, 2, 4, 6, 8, 10, 12],
                "labelExpr": "datum.value == 0 ? '-' : replace(format(datum.value, '.1f'), '.', ',')",
                "title": "Мультипликатор (\"безналичная часть М2\"/\"деньги банков\")",
                "titleAngle": 270,
                "titleX": 92,
                "titleY": 283,
                "titleAlign": "center",
                "titleBaseline": "middle",
                "titleFontSize": 20,
                "titleFontWeight": "bold",
                "labelFontSize": 18,
                "labelFontWeight": "bold",
                "labelPadding": 31,
                "labelAlign": "left",
                "domain": false,
                "ticks": false,
                "grid": false
              }
            },
            "color": {"field": "s", "type": "nominal", "legend": null}
          }
        },
        {
          "data": {"name": "ann"},
          "transform": [{"filter": "datum.s == 'R'"}],
          "mark": {"type": "rule", "strokeWidth": 1.2},
          "encoding": {
            "x": {"field": "d", "type": "temporal"},
            "y": {"field": "v", "type": "quantitative"},
            "x2": {"field": "ld"},
            "y2": {"field": "lv"},
            "color": {"field": "s", "type": "nominal", "legend": null}
          }
        },
        {
          "data": {"name": "ann"},
          "transform": [{"filter": "datum.s == 'R'"}],
          "mark": {"type": "point", "filled": false, "fill": "white", "fillOpacity": 1, "opacity": 1, "size": 4, "strokeWidth": 1.8},
          "encoding": {
            "x": {"field": "ld", "type": "temporal"},
            "y": {"field": "lv", "type": "quantitative"},
            "color": {"field": "s", "type": "nominal", "legend": null},
            "shape": {
              "field": "id", "type": "nominal", "legend": null,
              "scale": {
                "domain": ["r1", "r2", "r3", "r4", "r5", "r7", "r8", "r9", "r10", "b6", "o11", "o12"],
                "range": ["M-53,-13.5H53V13.5H-53Z", "M-60,-14H60V14H-60Z", "M-59,-13.5H59V13.5H-59Z", "M-66.5,-14H66.5V14H-66.5Z", "M-101.5,-18.5H101.5V18.5H-101.5Z", "M-66,-14.5H66V14.5H-66Z", "M-59.5,-13H59.5V13H-59.5Z", "M-55.5,-14H55.5V14H-55.5Z", "M-53.5,-13.5H53.5V13.5H-53.5Z", "M-69,-33H69V33H-69Z", "M-75,-14H75V14H-75Z", "M-109.5,-18H109.5V18H-109.5Z"]
              }
            }
          }
        },
        {
          "data": {"name": "ann"},
          "transform": [{"filter": "datum.s == 'R'"}],
          "mark": {"type": "text", "font": "Lato", "fontWeight": "bold", "align": "center", "baseline": "middle"},
          "encoding": {
            "x": {"field": "ld", "type": "temporal"},
            "y": {"field": "lv", "type": "quantitative"},
            "text": {"field": "t"},
            "color": {"field": "s", "type": "nominal", "legend": null},
            "size": {"condition": {"test": "datum.id == 'r5'", "value": 22}, "value": 16}
          }
        }
      ]
    }
  ],
  "resolve": {"scale": {"y": "independent"}},
  "config": {
    "view": {"stroke": null},
    "font": "Lato",
    "axis": {"labelColor": "black", "titleColor": "black", "labelFont": "Lato", "titleFont": "Lato"}
  }
}
